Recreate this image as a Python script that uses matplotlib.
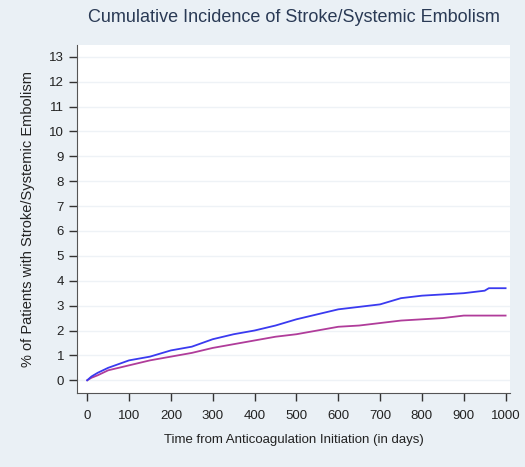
import matplotlib
matplotlib.use("Agg")
import matplotlib.pyplot as plt

# blue curve
days_blue = [0, 10, 25, 50, 75, 100, 150, 200, 250, 300, 350, 400, 450, 500,
             550, 600, 650, 700, 750, 800, 850, 900, 950, 960, 1000]
pct_blue = [0, 0.15, 0.3, 0.5, 0.65, 0.8, 0.95, 1.2, 1.35, 1.65, 1.85, 2.0,
            2.2, 2.45, 2.65, 2.85, 2.95, 3.05, 3.3, 3.4, 3.45, 3.5, 3.6, 3.7, 3.7]

# magenta curve
days_pink = [0, 10, 25, 50, 75, 100, 150, 200, 250, 300, 350, 400, 450, 500,
             550, 600, 650, 700, 750, 800, 850, 900, 1000]
pct_pink = [0, 0.1, 0.2, 0.4, 0.5, 0.6, 0.8, 0.95, 1.1, 1.3, 1.45, 1.6, 1.75,
            1.85, 2.0, 2.15, 2.2, 2.3, 2.4, 2.45, 2.5, 2.6, 2.6]

x_ticks = list(range(0, 1001, 100))
y_ticks = list(range(0, 14))

plt.rcParams['font.family'] = ['Liberation Sans Narrow', 'Liberation Sans', 'DejaVu Sans']

BG = '#eaf0f5'
fig = plt.figure(figsize=(5.25, 4.67), dpi=100, facecolor=BG)
ax = fig.add_axes([0.147, 0.158, 0.824, 0.746])
ax.set_facecolor('white')

for y in y_ticks:
    ax.axhline(y, color='#eef2f6', lw=1.0, zorder=0)

ax.plot(days_pink, pct_pink, color='#b03c9a', lw=1.3)
ax.plot(days_blue, pct_blue, color='#3a3af0', lw=1.3)

ax.set_xlim(-24, 1010)
ax.set_ylim(-0.52, 13.48)
ax.set_xticks(x_ticks)
ax.set_yticks(y_ticks)
ax.tick_params(axis='both', direction='out', length=6, width=1, color='#333333',
               labelsize=9.5, labelcolor='#222222')
ax.tick_params(axis='x', pad=6)

for side in ['top', 'right']:
    ax.spines[side].set_visible(False)
for side in ['left', 'bottom']:
    ax.spines[side].set_color('#555555')

ax.set_xlabel('Time from Anticoagulation Initiation (in days)', fontsize=9.5,
              color='#222222', labelpad=9)
ax.set_ylabel('% of Patients with Stroke/Systemic Embolism', fontsize=10.5,
              color='#222222', labelpad=10)
fig.text(0.56, 0.962, 'Cumulative Incidence of Stroke/Systemic Embolism',
         ha='center', va='center', fontsize=13, color='#2a3a55')

fig.savefig('out.png', dpi=100, facecolor=BG)
